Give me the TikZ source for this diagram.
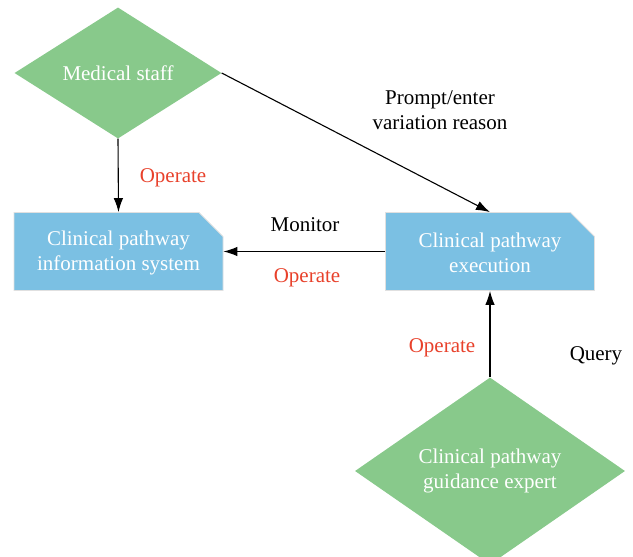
\documentclass[tikz,border=0pt]{standalone}
\usepackage{fontspec}
\setmainfont{Liberation Serif}
\usetikzlibrary{shapes.geometric,shapes.misc,arrows.meta}
\definecolor{boxblue}{RGB}{123,192,227}
\definecolor{staffgreen}{RGB}{136,201,139}
\definecolor{oprred}{RGB}{232,65,43}

\begin{document}
\begin{tikzpicture}[x=1pt,y=-1pt,
	txt/.style={font=\fontsize{21}{25}\selectfont,align=center},
	actor/.style={txt,diamond,fill=staffgreen,text=white,inner sep=0pt},
	sysbox/.style={txt,chamfered rectangle,chamfered rectangle corners=north east,
		chamfered rectangle xsep=21pt,chamfered rectangle angle=45,fill=boxblue,
		draw=black!12,line width=0.8pt,text=white,inner sep=0pt,
		minimum width=209pt,minimum height=78pt},
	flow/.style={-{Latex[length=14pt,width=9.5pt]},line width=1.1pt},
	opr/.style={txt,text=oprred}]
	\useasboundingbox (0,0) rectangle (633,557);
	\node[actor,minimum width=207pt,minimum height=131pt] (staff) at (118,73) {Medical staff};
	\node[sysbox] (info) at (118.5,251.5) {\strut Clinical pathway\\information system};
	\node[sysbox] (exec) at (490,251.5) {\strut Clinical pathway\\execution};
	\node[actor,minimum width=270pt,minimum height=172pt] (expert) at (490,471) {Clinical pathway\\guidance expert};
	\draw[flow] (staff.south) -- (info.north);
	\draw[flow] (staff.east) -- (exec.north);
	\draw[flow] (exec.west) -- (info.east);
	\draw[flow] (expert.north) -- (exec.south);
	\node[opr] (op1) at (173,178) {Operate};
	\node[txt] (prompt) at (440,110) {Prompt/enter\\variation reason};
	\node[txt] (mon) at (305,225) {Monitor};
	\node[opr] (op2) at (307,278) {Operate};
	\node[opr] (op3) at (442,348) {Operate};
	\node[txt] (query) at (596,356) {Query};
\end{tikzpicture}
\end{document}
